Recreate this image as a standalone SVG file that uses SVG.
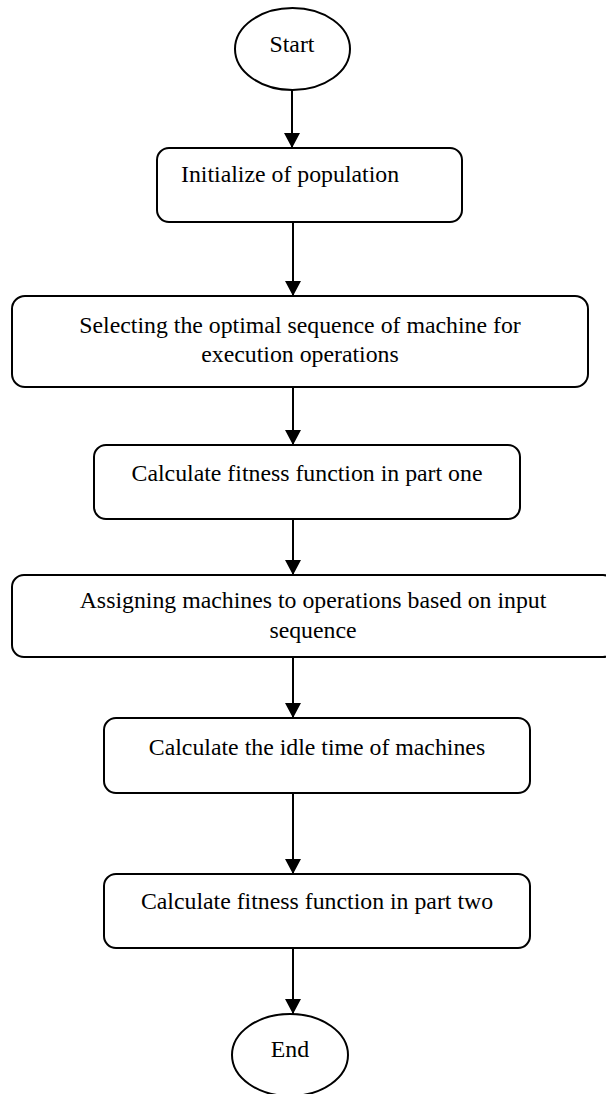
<svg xmlns="http://www.w3.org/2000/svg" width="606" height="1094" viewBox="0 0 606 1094">
  <style>
    .shape { fill: #ffffff; stroke: #000000; stroke-width: 2; }
    .label { font-family: "Liberation Serif", "Times New Roman", serif; font-size: 23.8px; fill: #000000; }
    .mid { text-anchor: middle; }
    .flow { stroke: #000000; stroke-width: 2; fill: none; marker-end: url(#arrow); }
  </style>
  <defs>
    <marker id="arrow" viewBox="0 0 15 16" refX="15" refY="8" markerWidth="15" markerHeight="16" markerUnits="userSpaceOnUse" orient="auto">
      <path d="M0,0 L15,8 L0,16 Z" fill="#000000"/>
    </marker>
  </defs>
  <rect width="606" height="1094" fill="#ffffff"/>

  <!-- connectors -->
  <g id="connectors">
    <line class="flow" x1="292" y1="90" x2="292" y2="148"/>
    <line class="flow" x1="293" y1="222" x2="293" y2="296"/>
    <line class="flow" x1="293" y1="387" x2="293" y2="445"/>
    <line class="flow" x1="293" y1="519" x2="293" y2="575"/>
    <line class="flow" x1="293" y1="657" x2="293" y2="718"/>
    <line class="flow" x1="293" y1="793" x2="293" y2="874"/>
    <line class="flow" x1="293" y1="948" x2="293" y2="1014"/>
  </g>

  <g id="start">
    <ellipse class="shape" cx="292.5" cy="49" rx="57.5" ry="41"/>
    <text class="label mid" x="292" y="52">Start</text>
  </g>

  <g id="init-population">
    <rect class="shape" x="157" y="148" width="305" height="74" rx="12"/>
    <text class="label" x="181" y="182">Initialize of population</text>
  </g>

  <g id="select-sequence">
    <rect class="shape" x="12" y="296" width="576" height="91" rx="13"/>
    <text class="label mid" x="300" y="333">Selecting the optimal sequence of machine for</text>
    <text class="label mid" x="300" y="362">execution operations</text>
  </g>

  <g id="fitness-one">
    <rect class="shape" x="94" y="445" width="426" height="74" rx="12"/>
    <text class="label mid" x="307" y="481">Calculate fitness function in part one</text>
  </g>

  <g id="assign-machines">
    <rect class="shape" x="12" y="575" width="603" height="82" rx="12"/>
    <text class="label mid" x="313" y="608">Assigning machines to operations based on input</text>
    <text class="label mid" x="313" y="638">sequence</text>
  </g>

  <g id="idle-time">
    <rect class="shape" x="104" y="718" width="426" height="75" rx="12"/>
    <text class="label mid" x="317" y="755">Calculate the idle time of machines</text>
  </g>

  <g id="fitness-two">
    <rect class="shape" x="104" y="874" width="426" height="74" rx="12"/>
    <text class="label mid" x="317" y="909">Calculate fitness function in part two</text>
  </g>

  <g id="end">
    <ellipse class="shape" cx="290" cy="1055" rx="58" ry="41"/>
    <text class="label mid" x="290" y="1057">End</text>
  </g>
</svg>
